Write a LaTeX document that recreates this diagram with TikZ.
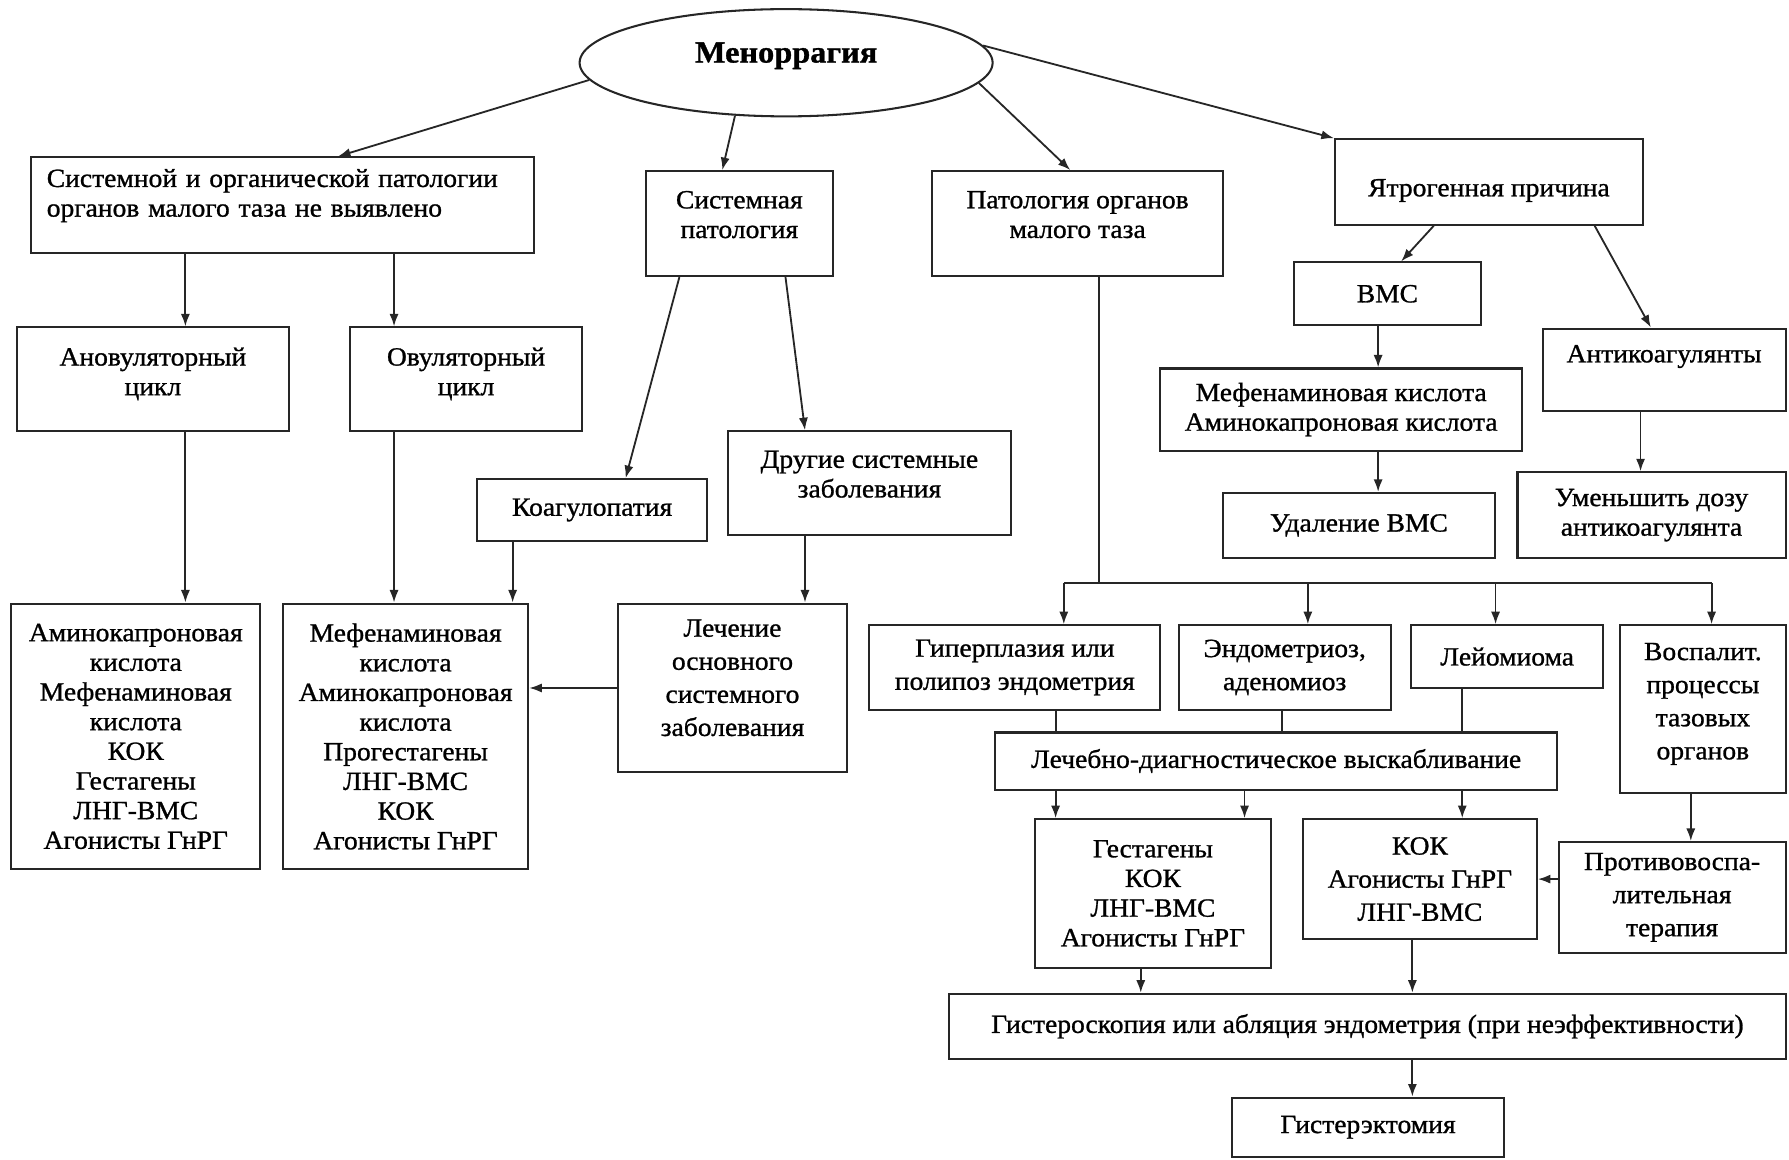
\documentclass[tikz,border=0pt]{standalone}
\usepackage{fontspec}
\setmainfont{Liberation Serif}[FakeStretch=1.05, FakeBold=1]
\usetikzlibrary{shapes.geometric,arrows.meta,calc}

\begin{document}
\begin{tikzpicture}[x=1pt, y=-1pt,
    box/.style={draw=black!85, line width=1.8pt, align=center, inner sep=4pt,
      font=\fontsize{23}{26}\selectfont},
    tall/.style={font=\fontsize{23}{29}\selectfont},
    lift/.style={text depth=#1},
    drop/.style={text height=#1},
    arr/.style={draw=black!85, line width=1.6pt, -{Latex[length=11pt,width=8pt]}},
    ln/.style={draw=black!85, line width=1.6pt}]
  \useasboundingbox (0,0) rectangle (1568,1016);

  \node[ellipse, draw=black!85, line width=1.8pt, minimum width=362pt, minimum height=94pt,
    lift=18pt, font=\fontsize{27}{32}\selectfont\bfseries] (mnr) at (689,55) {Меноррагия};

  \node[box, align=left, inner xsep=14pt, text width=413pt, minimum height=84pt, lift=48pt] (nopat) at (247.5,180)
    {Системной и органической патологии\\органов малого таза не выявлено};
  \node[box, minimum width=164pt, minimum height=92pt, lift=16pt] (syst) at (648,196) {Системная\\патология};
  \node[box, minimum width=255pt, minimum height=92pt, lift=16pt] (pelv) at (944.5,196) {Патология органов\\малого таза};
  \node[box, minimum width=270pt, minimum height=75pt, drop=30pt] (iatr) at (1305,159.5) {Ятрогенная причина};
  \node[box, minimum width=164pt, minimum height=55pt] (vms) at (1216,257.5) {ВМС};
  \node[box, minimum width=213pt, minimum height=72pt, lift=28pt] (acoag) at (1458.5,324) {Антикоагулянты};
  \node[box, minimum width=317pt, minimum height=72pt] (mefvms) at (1175.5,359) {Мефенаминовая кислота\\Аминокапроновая кислота};
  \node[box, minimum width=238pt, minimum height=57pt] (remvms) at (1191,460.5) {Удаление ВМС};
  \node[box, minimum width=235pt, minimum height=75pt] (dose) at (1447.5,451.5) {Уменьшить дозу\\антикоагулянта};

  \node[box, minimum width=238pt, minimum height=91pt, lift=14pt] (anov) at (134,332.5) {Ановуляторный\\цикл};
  \node[box, minimum width=203pt, minimum height=91pt, lift=14pt] (ov) at (408.5,332.5) {Овуляторный\\цикл};
  \node[box, minimum width=202pt, minimum height=54pt] (coag) at (519,447) {Коагулопатия};
  \node[box, minimum width=248pt, minimum height=91pt, lift=16pt] (othr) at (762,423.5) {Другие системные\\заболевания};
  \node[box, minimum width=218pt, minimum height=233pt] (anovtx) at (119,645.5)
    {Аминокапроновая\\кислота\\Мефенаминовая\\кислота\\КОК\\Гестагены\\ЛНГ-ВМС\\Агонисты ГнРГ};
  \node[box, minimum width=215pt, minimum height=233pt] (ovtx) at (355.5,645.5)
    {Мефенаминовая\\кислота\\Аминокапроновая\\кислота\\Прогестагены\\ЛНГ-ВМС\\КОК\\Агонисты ГнРГ};
  \node[box, tall, minimum width=200pt, minimum height=148pt, lift=18pt] (treat) at (642,603)
    {Лечение\\основного\\системного\\заболевания};

  \node[box, tall, minimum width=255pt, minimum height=74pt] (hyp) at (889.5,585) {Гиперплазия или\\полипоз эндометрия};
  \node[box, tall, minimum width=186pt, minimum height=74pt] (endo) at (1126,585) {Эндометриоз,\\аденомиоз};
  \node[box, minimum width=168pt, minimum height=55pt] (leio) at (1321,575.5) {Лейомиома};
  \node[box, tall, minimum width=145pt, minimum height=147pt, lift=14pt] (infl) at (1492.5,621.5)
    {Воспалит.\\процессы\\тазовых\\органов};
  \node[box, minimum width=493pt, minimum height=50pt] (cur) at (1118.5,667) {Лечебно-диагностическое выскабливание};
  \node[box, minimum width=207pt, minimum height=130pt] (gest) at (1010.5,783) {Гестагены\\КОК\\ЛНГ-ВМС\\Агонисты ГнРГ};
  \node[box, tall, minimum width=205pt, minimum height=105pt] (kok) at (1244.5,770.5) {КОК\\Агонисты ГнРГ\\ЛНГ-ВМС};
  \node[box, tall, minimum width=199pt, minimum height=97pt] (antiinfl) at (1465.5,786.5) {Противовоспа-\\лительная\\терапия};
  \node[box, minimum width=733pt, minimum height=57pt] (hsc) at (1198.5,899.5)
    {Гистероскопия или абляция эндометрия (при неэффективности)};
  \node[box, minimum width=238pt, minimum height=52pt] (hyst) at (1199,988) {Гистерэктомия};

  \draw[arr] (mnr.185) -- ($(nopat.north west)!.61!(nopat.north east)$);
  \draw[arr] (mnr.226) -- ($(syst.north west)!.41!(syst.north east)$);
  \draw[arr] (mnr.354) -- ($(pelv.north west)!.475!(pelv.north east)$);
  \draw[arr] (mnr.5) -- (iatr.north west);

  \draw[arr] ($(nopat.south west)!.308!(nopat.south east)$) coordinate (a1) -- (a1 |- anov.north);
  \draw[arr] (a1 |- anov.south) -- (a1 |- anovtx.north);
  \draw[arr] ($(nopat.south west)!.721!(nopat.south east)$) coordinate (a2) -- (a2 |- ov.north);
  \draw[arr] (a2 |- ov.south) -- (a2 |- ovtx.north);
  \draw[arr] ($(coag.south west)!.158!(coag.south east)$) coordinate (a3) -- (a3 |- ovtx.north);
  \draw[arr] ($(syst.south west)!.183!(syst.south east)$) -- ($(coag.north west)!.644!(coag.north east)$);
  \draw[arr] ($(syst.south west)!.744!(syst.south east)$) -- ($(othr.north west)!.274!(othr.north east)$);
  \draw[arr] ($(othr.south west)!.274!(othr.south east)$) coordinate (a4) -- (a4 |- treat.north);
  \draw[arr] (treat.west) -- (treat.west -| ovtx.east);

  \draw[arr] ($(iatr.south west)!.322!(iatr.south east)$) -- ($(vms.north west)!.573!(vms.north east)$);
  \draw[arr] ($(iatr.south west)!.841!(iatr.south east)$) -- ($(acoag.north west)!.446!(acoag.north east)$);
  \draw[arr] ($(vms.south west)!.451!(vms.south east)$) coordinate (b1) -- (b1 |- mefvms.north);
  \draw[arr] (b1 |- mefvms.south) -- (b1 |- remvms.north);
  \draw[arr] ($(acoag.south west)!.404!(acoag.south east)$) coordinate (b2) -- (b2 |- dose.north);

  \coordinate (bus) at (963,511);
  \draw[ln] ($(pelv.south west)!.573!(pelv.south east)$) coordinate (c0) -- (c0 |- bus);
  \path ($(hyp.north west)!.667!(hyp.north east)$) coordinate (c1)
        ($(endo.north west)!.608!(endo.north east)$) coordinate (c2)
        ($(leio.north west)!.44!(leio.north east)$) coordinate (c3)
        ($(infl.north west)!.552!(infl.north east)$) coordinate (c4);
  \draw[ln] (c1 |- bus) -- (c4 |- bus);
  \foreach \c in {c1,c2,c3,c4}
    \draw[arr] (\c |- bus) -- (\c);

  \foreach \n/\f in {hyp/.639, endo/.489, leio/.268}
    \draw[ln] ($(\n.south west)!\f!(\n.south east)$) coordinate (d\n) -- (d\n |- cur.north);
  \draw[arr] (dhyp |- cur.south) -- (dhyp |- gest.north);
  \draw[arr] ($(cur.south west)!.444!(cur.south east)$) coordinate (e1) -- (e1 |- gest.north);
  \draw[arr] (dleio |- cur.south) -- (dleio |- kok.north);
  \draw[arr] ($(infl.south west)!.428!(infl.south east)$) coordinate (e2) -- (e2 |- antiinfl.north);
  \draw[arr] (antiinfl.west |- kok.east) -- (kok.east);
  \draw[arr] ($(gest.south west)!.449!(gest.south east)$) coordinate (e3) -- (e3 |- hsc.north);
  \draw[arr] ($(kok.south west)!.468!(kok.south east)$) coordinate (e4) -- (e4 |- hsc.north);
  \draw[arr] (e4 |- hsc.south) -- (e4 |- hyst.north);
\end{tikzpicture}
\end{document}
